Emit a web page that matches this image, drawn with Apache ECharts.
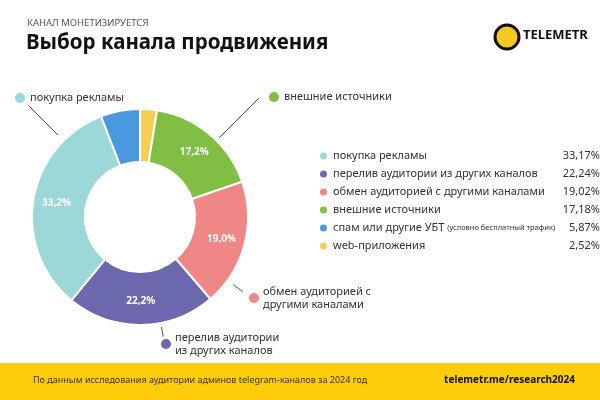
<!DOCTYPE html>
<html><head><meta charset="utf-8">
<script src="https://cdn.jsdelivr.net/npm/echarts@6/dist/echarts.min.js"></script>
<style>html,body{margin:0;padding:0;background:#fff}#c{width:600px;height:400px}</style>
</head><body><div id="c"></div>
<script>
// ---- data ----
const categories = ['покупка рекламы','перелив аудитории из других каналов','обмен аудиторией с другими каналами','внешние источники','спам или другие УБТ','web-приложения'];
const values = [33.17, 22.24, 19.02, 17.18, 5.87, 2.52];
const legendNotes = ['', '', '', '', '(условно бесплатный трафик)', ''];
const outerLabels = ['покупка рекламы','перелив аудитории\nиз других каналов','обмен аудиторией с\nдругими каналами','внешние источники','',''];
const colors = ['#9dd8d8','#6b68ae','#ef8787','#80be44','#4a98e0','#f5cf55'];
// order around the ring, clockwise from 12 o'clock
const ringOrder = [5, 3, 2, 1, 0, 4];

// ---- style / layout ----
const CX = 140, CY = 217, R0 = 55, R1 = 108;
const FONT = 'Noto Sans';
// per category: leader line angle (deg, clockwise from top), radii, label anchor
const labelPos = {
  0: {ang: 315, ra: 116, rb: 158, x: 30,  y: 98,  dx: 20},
  3: {ang: 45,  ra: 112, rb: 168, x: 284, y: 97,  dx: 274},
  2: {ang: 126, ra: 115, rb: 127, x: 263, y: 298, dx: 254},
  1: {ang: 169, ra: 112, rb: 122, x: 175, y: 344, dx: 166}
};
function pt(ang, r){ const a = ang*Math.PI/180; return [CX + r*Math.sin(a), CY - r*Math.cos(a)]; }
function pct(v, d){ return v.toFixed(d).replace('.', ',') + '%'; }

const ringData = ringOrder.map(i => ({name: categories[i], value: values[i], idx: i, itemStyle: {color: colors[i]}}));

const chart = echarts.init(document.getElementById('c'), null, {renderer: 'canvas'});
const option = {
  animation: false,
  title: [
    {text: 'КАНАЛ МОНЕТИЗИРУЕТСЯ', left: 27, top: 18, padding: 0, textStyle: {fontFamily: FONT, fontSize: 9.5, fontWeight: 'normal', color: '#555'}},
    {text: 'Выбор канала продвижения', left: 26, top: 33, padding: 0, textStyle: {fontFamily: FONT, fontSize: 20.5, fontWeight: 'bold', color: '#111'}}
  ],
  legend: {
    orient: 'vertical', left: 313, top: 144,
    icon: 'circle', itemWidth: 9, itemHeight: 9, itemGap: 4,
    selectedMode: false,
    data: categories,
    formatter: function(name){
      const i = categories.indexOf(name);
      const note = legendNotes[i] ? '{s|' + legendNotes[i] + '}' : '';
      return '{n|' + name + ' }' + note + '{v|' + pct(values[i], 2) + '}';
    },
    textStyle: {
      fontFamily: FONT, fontSize: 11, color: '#333', width: 267, lineHeight: 14,
      rich: {
        n: {fontFamily: FONT, fontSize: 11, color: '#333'},
        s: {fontFamily: FONT, fontSize: 7.5, color: '#333'},
        v: {fontFamily: FONT, fontSize: 11, color: '#333', align: 'right'}
      }
    }
  },
  series: [
    {
      type: 'pie', center: [CX, CY], radius: [R0, R1], startAngle: 90, clockwise: true,
      avoidLabelOverlap: false, silent: true,
      itemStyle: {borderColor: '#fff', borderWidth: 2},
      label: {
        show: true, position: 'inside', color: '#fff', fontFamily: FONT, fontSize: 10, fontWeight: 'bold',
        formatter: p => (p.data.idx <= 3 ? pct(p.value, 1) : '')
      },
      labelLine: {show: false},
      data: ringData
    },
    {
      type: 'pie', center: [CX, CY], radius: [R0, R1], startAngle: 90, clockwise: true,
      avoidLabelOverlap: false, silent: true,
      itemStyle: {color: 'rgba(0,0,0,0)'},
      label: {
        show: true, position: 'outside', color: '#333', fontFamily: FONT, fontSize: 11, lineHeight: 13,
        formatter: p => outerLabels[p.data.idx]
      },
      labelLine: {show: true, lineStyle: {color: '#555', width: 1}},
      labelLayout: function(params){
        const item = ringData[params.dataIndex];
        const lp = labelPos[item.idx];
        if (!lp) return {x: -100, y: -100};
        return {x: lp.x, y: lp.y, align: 'left', verticalAlign: 'middle',
          labelLinePoints: [pt(lp.ang, lp.ra), pt(lp.ang, lp.rb), pt(lp.ang, lp.rb)]};
      },
      data: ringData.map(d => ({name: d.name, value: d.value, idx: d.idx,
        label: {show: !!labelPos[d.idx]}, labelLine: {show: !!labelPos[d.idx]}}))
    },
    {
      type: 'pie', center: [CX, CY], radius: [R0, R1], startAngle: 90, clockwise: true,
      avoidLabelOverlap: false, silent: true,
      itemStyle: {color: 'rgba(0,0,0,0)'},
      label: {
        show: true, position: 'outside',
        formatter: p => '{d|}',
        rich: {d: {width: 10, height: 10, borderRadius: 5, backgroundColor: 'inherit'}}
      },
      labelLine: {show: false},
      labelLayout: function(params){
        const item = ringData[params.dataIndex];
        const lp = labelPos[item.idx];
        if (!lp) return {x: -100, y: -100};
        return {x: lp.dx, y: lp.y, align: 'center', verticalAlign: 'middle'};
      },
      data: ringData.map(d => ({name: d.name, value: d.value, idx: d.idx,
        label: {show: !!labelPos[d.idx], rich: {d: {width: 10, height: 10, borderRadius: 5, backgroundColor: colors[d.idx]}}}}))
    }
  ],
  graphic: [
    {type: 'rect', left: 0, top: 363, shape: {width: 600, height: 37}, style: {fill: '#fdcc0a'}, silent: true},
    {type: 'text', left: 33, top: 376, style: {text: 'По данным исследования аудитории админов telegram-каналов за 2024 год', fontFamily: FONT, fontSize: 9, fill: '#333'}},
    {type: 'text', right: 25, top: 375, style: {text: 'telemetr.me/research2024', fontFamily: FONT, fontSize: 10, fontWeight: 'bold', fill: '#111'}},
    {type: 'circle', shape: {cx: 507, cy: 37, r: 12}, style: {fill: '#f5c824', stroke: '#111', lineWidth: 3}},
    {type: 'text', left: 523, top: 29, style: {text: 'TELEMETR', fontFamily: FONT, fontSize: 13, fontWeight: 'bold', fill: '#111'}}
  ]
};
chart.setOption(option);
</script></body></html>
